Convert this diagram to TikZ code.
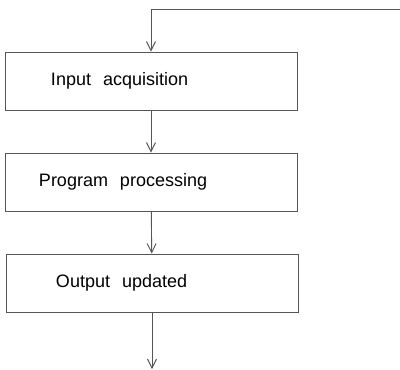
\documentclass[tikz,border=0pt]{standalone}
\usepackage{fontspec}
\setmainfont{Liberation Sans}
\usetikzlibrary{arrows.meta, positioning}
\definecolor{linegray}{RGB}{85, 85, 85}
\tikzset{
    stepbox/.style={rectangle, draw=linegray, line width=1pt, minimum width=292pt, minimum height=58pt, inner sep=0pt, text width=292pt, align=left, font=\fontsize{18}{21}\selectfont},
    line/.style={draw, linegray, line width=0.9pt, -{Straight Barb[length=9pt, width=9pt]}}
}
\begin{document}
\begin{tikzpicture}[x=1pt, y=-1pt]
        \useasboundingbox (0,0) rectangle (400,370);
        \node[stepbox] (input) at (151,81) {\hspace*{46pt}Input\ \ acquisition};
        \node[stepbox, below=42pt of input] (program) {\hspace*{34pt}Program\ \ processing};
        \node[stepbox, below=42pt of program, xshift=1pt] (output) {\hspace*{50pt}Output\ \ updated};
        
        \coordinate (feedback) at (400,9);
        \coordinate (result) at (output.south |- 0,369);
        
        \draw[line] (feedback) -| (input);
        \draw[line] (input) -- (program);
        \draw[line] (program) -- (output);
        \draw[line] (output) -- (result);
    \end{tikzpicture}
\end{document}
